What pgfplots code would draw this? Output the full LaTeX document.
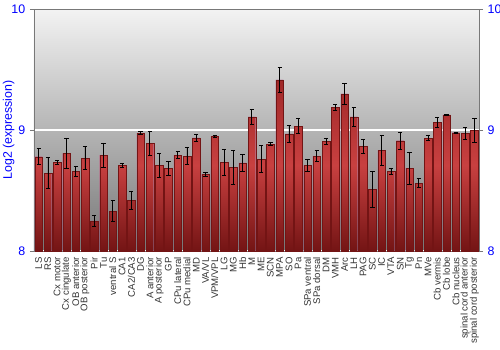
\documentclass[border=0pt]{standalone}
\usepackage{pgfplots}
\pgfplotsset{compat=1.18}
\usepackage{pgfplotstable}
\usepackage{fontspec}
\setmainfont{Liberation Sans}
\definecolor{barL}{RGB}{160,40,40}
\definecolor{barM}{RGB}{200,64,64}
\definecolor{barR}{RGB}{115,20,20}
\definecolor{bgTop}{RGB}{243,243,243}
\definecolor{bgBot}{RGB}{118,118,118}
\definecolor{frame}{RGB}{120,120,120}
\pgfplotstableread{
idx val err
0 8.779 0.065
1 8.644 0.13
2 8.732 0.014
3 8.807 0.124
4 8.657 0.044
5 8.768 0.094
6 8.249 0.048
7 8.793 0.10
8 8.329 0.088
9 8.707 0.019
10 8.420 0.076
11 8.975 0.010
12 8.892 0.10
13 8.707 0.097
14 8.682 0.055
15 8.793 0.028
16 8.785 0.07
17 8.934 0.026
18 8.635 0.015
19 8.948 0.010
20 8.732 0.11
21 8.691 0.138
22 8.729 0.07
23 9.108 0.06
24 8.760 0.112
25 8.884 0.011
26 9.414 0.105
27 8.967 0.07
28 9.030 0.062
29 8.707 0.047
30 8.785 0.046
31 8.906 0.023
32 9.185 0.026
33 9.298 0.09
34 9.108 0.08
35 8.867 0.058
36 8.511 0.149
37 8.831 0.124
38 8.657 0.028
39 8.912 0.069
40 8.685 0.134
41 8.561 0.039
42 8.931 0.021
43 9.061 0.043
44 9.124 0.006
45 8.978 0.004
46 8.970 0.051
47 8.997 0.098
}\datatable
\begin{document}
\begin{tikzpicture}
\begin{axis}[
  scale only axis,
  width=333.75pt, height=181.5pt,
  xmin=-0.5, xmax=47.5, ymin=8, ymax=10,
  ybar, bar width=0.82,
  axis background/.style={top color=bgTop, bottom color=bgBot},
  axis line style={frame},
  xtick=data,
  xticklabels={LS,RS,Cx motor,Cx cingulate,OB anterior,OB posterior,Pir,Tu,ventral S,CA1,CA2/CA3,DG,A anterior,A posterior,GP,CPu lateral,CPu medial,MD,VA/VL,VPM/VPL,LG,MG,Hb,M,ME,SCN,MPA,SO,Pa,SPa ventral,SPa dorsal,DM,VMH,Arc,LH,PAG,SC,IC,VTA,SN,Tg,Pn,MVe,Cb vermis,Cb lobe,Cb nucleus,spinal cord anterior,spinal cord posterior},
  x tick label style={rotate=90, anchor=east, font=\fontsize{7.2}{7.2}\selectfont, text=black!80, inner sep=1.5pt},
  major x tick style={draw=none},
  ytick={8,9,10},
  yticklabel pos=left,
  y tick label style={font=\fontsize{9.3}{10}\selectfont, text=blue},
  /pgf/number format/assume math mode=true,
  ytick align=outside, ytick pos=left,
  major y tick style={frame},
  major tick length=3pt,
  ymajorgrids, grid style={white, line width=0.9pt},
  ylabel={Log2 (expression)},
  ylabel shift=-9pt,
  ylabel style={font=\fontsize{9.3}{10}\selectfont, text=blue},
  clip=true,
]
\addplot+[ybar, draw=barR, line width=0.2pt, left color=barL, right color=barR, middle color=barM, shading angle=0,
  error bars/.cd, y dir=both, y explicit, error mark options={rotate=90, mark size=1.6pt, black, line width=0.6pt},
  error bar style={black, line width=0.6pt}]
  table[x=idx, y=val, y error=err] {\datatable};
\coordinate (sw) at (rel axis cs:0,0);
\coordinate (ne) at (rel axis cs:1,1);
\end{axis}
\begin{axis}[
  scale only axis,
  width=333.75pt, height=181.5pt,
  xmin=-0.5, xmax=47.5, ymin=8, ymax=10,
  hide x axis,
  axis y line*=right,
  axis line style={frame},
  ytick={8,9,10},
  y tick label style={font=\fontsize{9.3}{10}\selectfont, text=blue},
  /pgf/number format/assume math mode=true,
  ytick align=outside,
  major y tick style={frame},
  major tick length=3pt,
]
\addplot[draw=none] coordinates {(0,8)};
\end{axis}
\pgfresetboundingbox
\path[use as bounding box] (sw) ++(-25.5pt,-74.25pt) rectangle ([shift={(15.75pt,6.75pt)}]ne);
\end{tikzpicture}
\end{document}
